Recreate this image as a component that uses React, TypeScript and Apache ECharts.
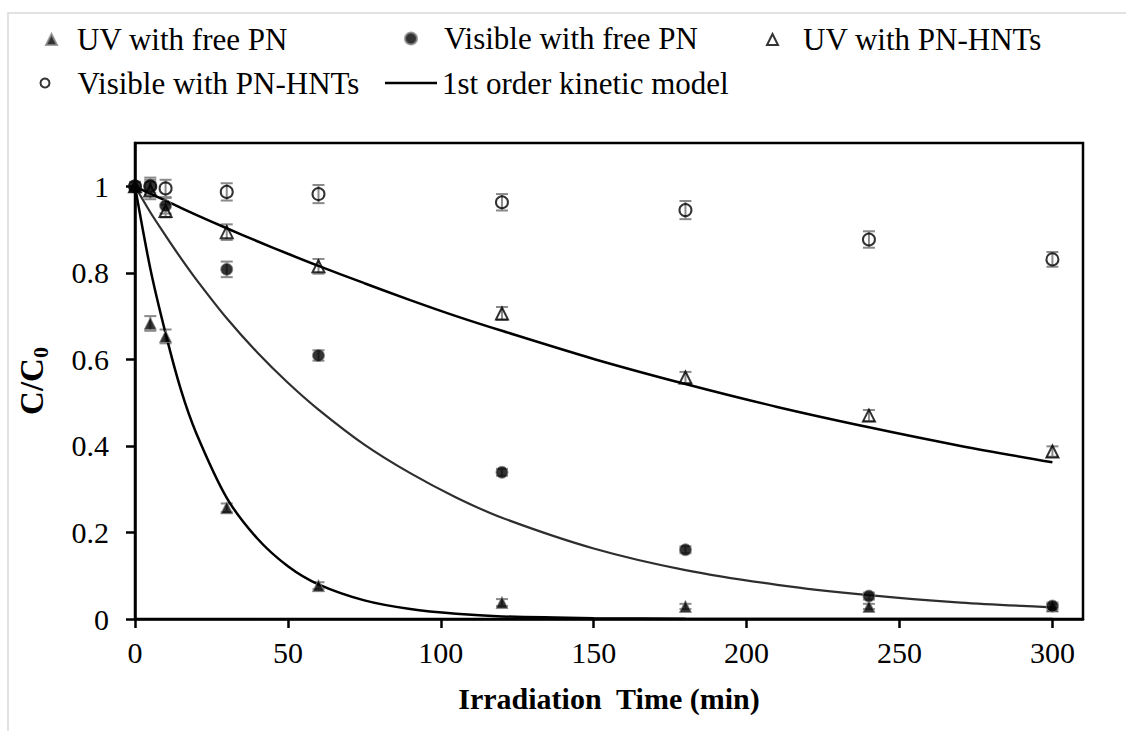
import React, { useEffect, useRef } from "react";
import * as echarts from "echarts";

// Irradiation times (min) of the measurements
const times = [0, 5, 10, 30, 60, 120, 180, 240, 300];

const uvFree = [1.0, 0.683, 0.653, 0.257, 0.077, 0.038, 0.029, 0.029, 0.03];
const visFree = [1.0, 1.0, 0.955, 0.808, 0.609, 0.339, 0.16, 0.053, 0.03];
const uvHnt = [1.0, 0.99, 0.943, 0.894, 0.815, 0.706, 0.558, 0.47, 0.387];
const visHnt = [1.0, 1.0, 0.995, 0.987, 0.982, 0.963, 0.945, 0.877, 0.831];

// Error bar half-widths
const uvFreeErr = [0.01, 0.017, 0.016, 0.01, 0.008, 0.008, 0.006, 0.006, 0.005];
const visFreeErr = [0.01, 0.015, 0.018, 0.018, 0.012, 0.008, 0.008, 0.008, 0.008];
const uvHntErr = [0.01, 0.02, 0.015, 0.018, 0.017, 0.015, 0.013, 0.013, 0.012];
const visHntErr = [0.01, 0.02, 0.02, 0.02, 0.021, 0.019, 0.021, 0.019, 0.017];

// 1st order kinetic model curves
const modelTimes = [0, 5, 10, 15, 20, 30, 40, 50, 60, 75, 90, 105, 120, 150, 180, 210, 240, 270, 300];
const modelUvFree = [1.0, 0.81, 0.66, 0.53, 0.43, 0.28, 0.186, 0.122, 0.08, 0.043, 0.023, 0.012, 0.006, 0.002, 0.0005, 0, 0, 0, 0];
const modelVisFree = [1.0, 0.94, 0.886, 0.834, 0.785, 0.695, 0.616, 0.546, 0.484, 0.403, 0.337, 0.281, 0.234, 0.163, 0.113, 0.079, 0.055, 0.038, 0.027];
const modelUvHnt = [1.0, 0.983, 0.967, 0.95, 0.934, 0.903, 0.873, 0.844, 0.816, 0.776, 0.737, 0.7, 0.666, 0.601, 0.543, 0.49, 0.443, 0.4, 0.362];

// Axis ticks
const xTicks = [0, 50, 100, 150, 200, 250, 300];
const yTicks = [0, 0.2, 0.4, 0.6, 0.8, 1];

const FONT = "Liberation Serif";
const MODEL_NAME = "1st order kinetic model";

const pts = (ts: number[], vals: number[]) => ts.map((t, i) => [t, vals[i]]);
const errPts = (vals: number[], errs: number[]) =>
  times.map((t, i) => [t, vals[i] - errs[i], vals[i] + errs[i]]);

const errorSeries = (name: string, vals: number[], errs: number[]) => ({
  type: "custom",
  name,
  z: 2,
  silent: true,
  data: errPts(vals, errs),
  renderItem: (params: any, api: any) => {
    const x = api.value(0);
    const pLo = api.coord([x, api.value(1)]);
    const pHi = api.coord([x, api.value(2)]);
    const hw = 6;
    const st = { stroke: "#8a8a8a", lineWidth: 2 };
    return {
      type: "group",
      children: [
        { type: "line", shape: { x1: pHi[0], y1: pHi[1], x2: pLo[0], y2: pLo[1] }, style: st },
        { type: "line", shape: { x1: pHi[0] - hw, y1: pHi[1], x2: pHi[0] + hw, y2: pHi[1] }, style: st },
        { type: "line", shape: { x1: pLo[0] - hw, y1: pLo[1], x2: pLo[0] + hw, y2: pLo[1] }, style: st },
      ],
    };
  },
});

const legendItem = (item: any, left: number, top: number, w: number, h: number, padLeft = 0) => ({
  data: [item],
  left,
  top,
  itemWidth: w,
  itemHeight: h,
  padding: 0,
  orient: "horizontal",
  selectedMode: false,
  symbolKeepAspect: true,
  textStyle: { fontFamily: FONT, fontSize: 31, color: "#000", padding: [0, 0, 0, padLeft] },
});

const modelLine = (vals: number[], color: string, width: number) => ({
  type: "line",
  name: MODEL_NAME,
  data: pts(modelTimes, vals),
  smooth: 0.3,
  symbol: "none",
  showSymbol: false,
  z: 3,
  lineStyle: { color, width },
  itemStyle: { color },
});

export default function App() {
  const ref = useRef<HTMLDivElement>(null);
  useEffect(() => {
    if (!ref.current) return;
    const chart = echarts.init(ref.current, undefined, { renderer: "svg" });
    const option: any = {
      animation: false,
      backgroundColor: "#fff",
      graphic: [
        {
          type: "rect",
          silent: true,
          z: -10,
          shape: { x: 8, y: 13, width: 1200, height: 800 },
          style: { fill: "none", stroke: "#d9d9d9", lineWidth: 1.5 },
        },
      ],
      legend: [
        legendItem({ name: "UV with free PN", icon: "triangle" }, 45, 24, 11, 11, 15),
        legendItem({ name: "Visible with free PN", icon: "circle" }, 404, 23, 56, 12),
        legendItem({ name: "UV with PN-HNTs", icon: "triangle" }, 766, 24, 11, 11, 20),
        legendItem({ name: "Visible with PN-HNTs", icon: "circle" }, 39.5, 67.5, 55, 9),
        legendItem({ name: MODEL_NAME, icon: "rect" }, 385, 67.5, 52, 2.5),
      ],
      grid: {
        left: 135,
        right: 43,
        top: 143,
        bottom: 112,
        show: true,
        borderColor: "#000",
        borderWidth: 2.5,
        backgroundColor: "transparent",
      },
      xAxis: {
        type: "value",
        min: 0,
        max: 310,
        interval: 50,
        name: "Irradiation  Time (min)",
        nameLocation: "middle",
        nameGap: 64,
        nameTextStyle: { fontFamily: FONT, fontSize: 30, fontWeight: "bold", color: "#000" },
        axisLine: { show: true, lineStyle: { color: "#000", width: 2.5 } },
        axisTick: { show: true, inside: false, length: 9, customValues: xTicks, lineStyle: { color: "#000", width: 2.5 } },
        axisLabel: { customValues: xTicks, fontFamily: FONT, fontSize: 30, color: "#000", margin: 18 },
        splitLine: { show: false },
      },
      yAxis: {
        type: "value",
        min: 0,
        max: 1.1,
        interval: 0.2,
        name: "{a|C/C}{b|0}",
        nameLocation: "middle",
        nameRotate: 90,
        nameGap: 84,
        nameTextStyle: {
          rich: {
            a: { fontFamily: FONT, fontSize: 33, fontWeight: "bold", color: "#000", lineHeight: 36, verticalAlign: "top" },
            b: { fontFamily: FONT, fontSize: 22, fontWeight: "bold", color: "#000", lineHeight: 20, verticalAlign: "bottom", padding: [8, 0, 0, 0] },
          },
        },
        axisLine: { show: true, lineStyle: { color: "#000", width: 2.5 } },
        axisTick: { show: true, inside: false, length: 9, customValues: yTicks, lineStyle: { color: "#000", width: 2.5 } },
        axisLabel: { customValues: yTicks, fontFamily: FONT, fontSize: 30, color: "#000", margin: 26 },
        splitLine: { show: false },
      },
      series: [
        errorSeries("err-uv-free", uvFree, uvFreeErr),
        errorSeries("err-vis-free", visFree, visFreeErr),
        errorSeries("err-uv-hnt", uvHnt, uvHntErr),
        errorSeries("err-vis-hnt", visHnt, visHntErr),
        modelLine(modelUvHnt, "#000", 2.5),
        modelLine(modelVisFree, "#2e2e2e", 2.2),
        modelLine(modelUvFree, "#000", 2.5),
        {
          type: "scatter",
          name: "UV with free PN",
          data: pts(times, uvFree),
          symbol: "triangle",
          symbolSize: 12,
          z: 4,
          itemStyle: { color: "#000", borderColor: "#888", borderWidth: 1 },
        },
        {
          type: "scatter",
          name: "Visible with free PN",
          data: pts(times, visFree),
          symbol: "circle",
          symbolSize: 12,
          z: 4,
          itemStyle: { color: "#000", borderColor: "#888", borderWidth: 1 },
        },
        {
          type: "scatter",
          name: "UV with PN-HNTs",
          data: pts(times, uvHnt),
          symbol: "triangle",
          symbolSize: 12,
          z: 4,
          itemStyle: { color: "rgba(255,255,255,0)", borderColor: "#000", borderWidth: 2 },
        },
        {
          type: "scatter",
          name: "Visible with PN-HNTs",
          data: pts(times, visHnt),
          symbol: "circle",
          symbolSize: 12,
          z: 4,
          itemStyle: { color: "rgba(255,255,255,0)", borderColor: "#000", borderWidth: 2 },
        },
      ],
    };
    chart.setOption(option);
    return () => chart.dispose();
  }, []);
  return (
    <div
      ref={ref}
      style={{ position: "absolute", left: 0, top: 0, width: 1126, height: 731 }}
    />
  );
}
